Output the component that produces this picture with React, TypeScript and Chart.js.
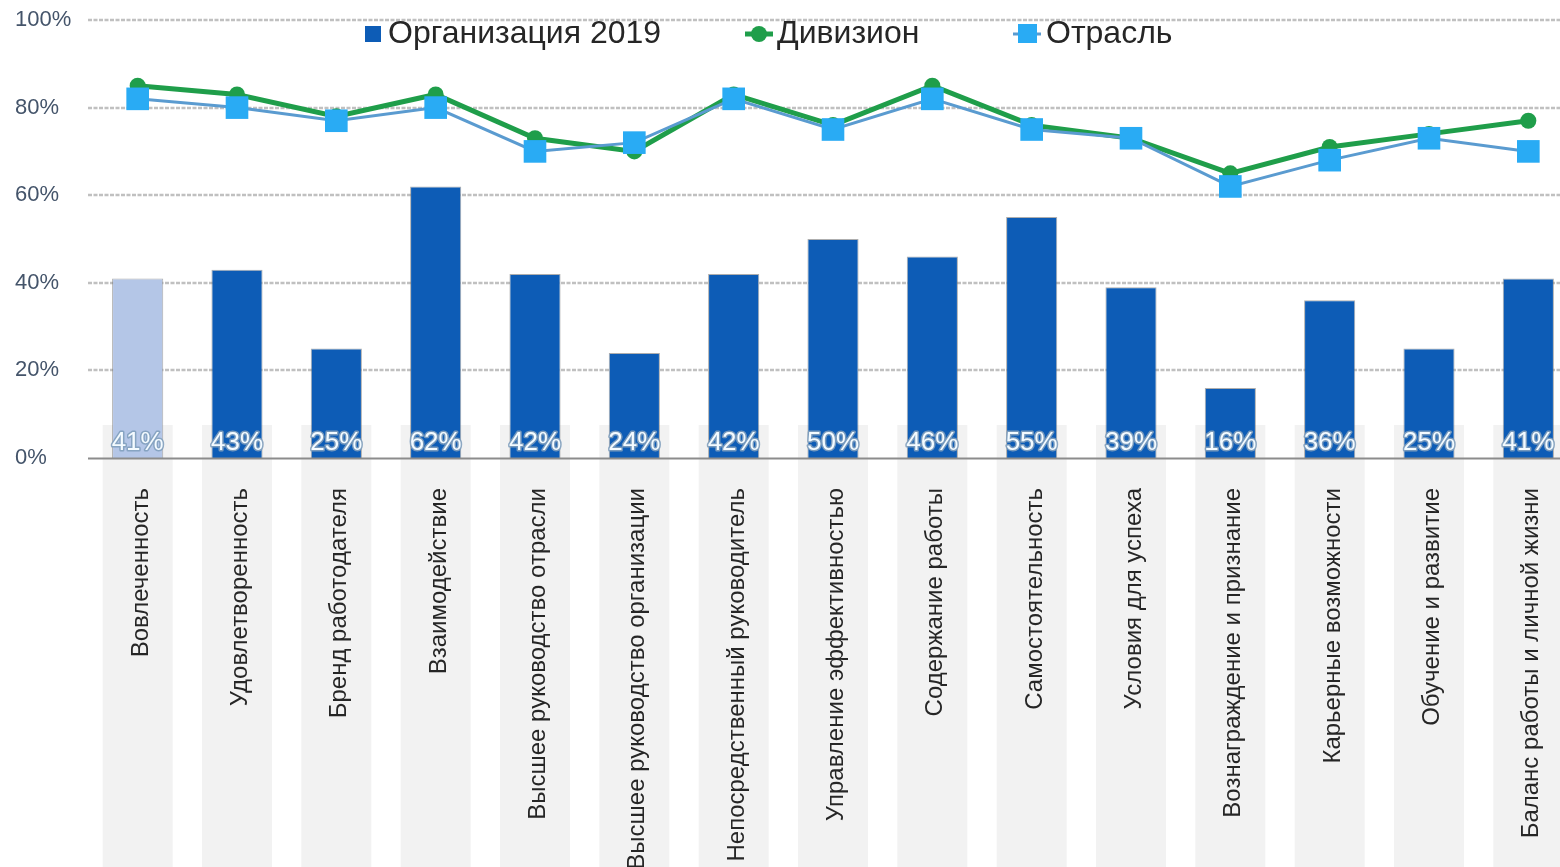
import { useEffect, useRef } from 'react';
import { Chart, registerables } from 'chart.js';

Chart.register(...registerables);

const categories = [
  'Вовлеченность',
  'Удовлетворенность',
  'Бренд работодателя',
  'Взаимодействие',
  'Высшее руководство отрасли',
  'Высшее руководство организации',
  'Непосредственный руководитель',
  'Управление эффективностью',
  'Содержание работы',
  'Самостоятельность',
  'Условия для успеха',
  'Вознаграждение и признание',
  'Карьерные возможности',
  'Обучение и развитие',
  'Баланс работы и личной жизни',
];

const orgValues = [41, 43, 25, 62, 42, 24, 42, 50, 46, 55, 39, 16, 36, 25, 41];
const divisionValues = [85, 83, 78, 83, 73, 70, 83, 76, 85, 76, 73, 65, 71, 74, 77];
const industryValues = [82, 80, 77, 80, 70, 72, 82, 75, 82, 75, 73, 62, 68, 73, 70];
const yTickValues = [0, 20, 40, 60, 80, 100];
const seriesNames = ['Организация 2019', 'Дивизион', 'Отрасль'];

const BAR_DARK = '#0d5cb6';
const BAR_LIGHT = '#b4c6e7';
const GREEN = '#1f9e4a';
const BLUE_LINE = '#5a9bd0';
const BLUE_POINT = '#29abf4';
const FONT = '"Liberation Sans", Arial, sans-serif';

const decorPlugin = {
  id: 'decor',
  beforeDatasetsDraw(chart: any) {
    const { ctx, chartArea, scales } = chart;
    const x = scales.x;
    const y = scales.y;
    ctx.save();
    ctx.fillStyle = '#f2f2f2';
    categories.forEach((_, i) => {
      const cx = x.getPixelForValue(i);
      ctx.fillRect(cx - 35, chartArea.bottom - 33, 70, chart.height - chartArea.bottom + 33);
    });
    ctx.strokeStyle = '#c0c0c0';
    ctx.lineWidth = 2.5;
    ctx.setLineDash([4, 1.5]);
    yTickValues.forEach((v) => {
      if (v === 0) return;
      const py = Math.round(y.getPixelForValue(v));
      ctx.beginPath();
      ctx.moveTo(chartArea.left, py);
      ctx.lineTo(chart.width, py);
      ctx.stroke();
    });
    ctx.restore();
  },
  afterDatasetsDraw(chart: any) {
    const { ctx, chartArea, scales } = chart;
    const x = scales.x;
    const y = scales.y;
    ctx.save();
    const py0 = Math.round(y.getPixelForValue(0)) + 0.5;
    ctx.strokeStyle = '#8c8c8c';
    ctx.lineWidth = 2;
    ctx.beginPath();
    ctx.moveTo(chartArea.left, py0);
    ctx.lineTo(chart.width, py0);
    ctx.stroke();

    ctx.font = `26px ${FONT}`;
    ctx.textAlign = 'center';
    ctx.textBaseline = 'alphabetic';
    ctx.lineJoin = 'round';
    orgValues.forEach((v, i) => {
      const cx = x.getPixelForValue(i);
      const ty = chartArea.bottom - 8;
      ctx.strokeStyle = 'rgba(130,160,190,0.9)';
      ctx.lineWidth = 3;
      ctx.strokeText(v + '%', cx, ty);
      ctx.fillStyle = '#f4fbff';
      ctx.fillText(v + '%', cx, ty);
    });

    ctx.font = `24px ${FONT}`;
    ctx.fillStyle = '#262626';
    categories.forEach((label, i) => {
      const cx = x.getPixelForValue(i);
      ctx.save();
      ctx.translate(cx + 10, chartArea.bottom + 30);
      ctx.rotate(-Math.PI / 2);
      ctx.textAlign = 'right';
      ctx.textBaseline = 'alphabetic';
      ctx.fillText(label, 0, 0);
      ctx.restore();
    });

    ctx.font = `32px ${FONT}`;
    ctx.textAlign = 'left';
    ctx.textBaseline = 'alphabetic';
    ctx.fillStyle = BAR_DARK;
    ctx.fillRect(365, 26, 16, 16);
    ctx.fillStyle = '#262626';
    ctx.fillText(seriesNames[0], 388, 43);
    ctx.strokeStyle = GREEN;
    ctx.lineWidth = 5;
    ctx.beginPath();
    ctx.moveTo(745, 34);
    ctx.lineTo(773, 34);
    ctx.stroke();
    ctx.fillStyle = GREEN;
    ctx.beginPath();
    ctx.arc(759, 34, 8, 0, Math.PI * 2);
    ctx.fill();
    ctx.fillStyle = '#262626';
    ctx.fillText(seriesNames[1], 777, 43);
    ctx.strokeStyle = BLUE_LINE;
    ctx.lineWidth = 3;
    ctx.beginPath();
    ctx.moveTo(1013, 34);
    ctx.lineTo(1041, 34);
    ctx.stroke();
    ctx.fillStyle = BLUE_POINT;
    ctx.fillRect(1018, 24, 19, 19);
    ctx.fillStyle = '#262626';
    ctx.fillText(seriesNames[2], 1046, 43);
    ctx.restore();
  },
};

export default function App() {
  const canvasRef = useRef<HTMLCanvasElement | null>(null);

  useEffect(() => {
    document.body.style.margin = '0';
    document.body.style.overflow = 'hidden';
    const canvas = canvasRef.current;
    if (!canvas) return;
    const chart = new Chart(canvas, {
      type: 'bar',
      data: {
        labels: categories,
        datasets: [
          {
            type: 'line',
            label: seriesNames[2],
            data: industryValues,
            borderColor: BLUE_LINE,
            borderWidth: 3,
            pointStyle: 'rect',
            pointRadius: 16,
            pointBackgroundColor: BLUE_POINT,
            pointBorderWidth: 0,
            fill: false,
            tension: 0,
            order: 1,
          } as any,
          {
            type: 'line',
            label: seriesNames[1],
            data: divisionValues,
            borderColor: GREEN,
            borderWidth: 5,
            pointStyle: 'circle',
            pointRadius: 8,
            pointBackgroundColor: GREEN,
            pointBorderWidth: 0,
            fill: false,
            tension: 0,
            order: 2,
          } as any,
          {
            type: 'bar',
            label: seriesNames[0],
            data: orgValues,
            backgroundColor: orgValues.map((_, i) => (i === 0 ? BAR_LIGHT : BAR_DARK)),
            borderColor: 'rgba(120,120,120,0.6)',
            borderWidth: 1,
            barPercentage: 0.515,
            categoryPercentage: 1,
            order: 3,
          } as any,
        ],
      },
      options: {
        responsive: false,
        animation: false,
        devicePixelRatio: 1,
        layout: { autoPadding: false, padding: { left: 15, top: 20, right: 0, bottom: 409 } },
        plugins: {
          legend: { display: false },
          tooltip: { enabled: false },
        },
        scales: {
          x: { display: false, offset: true },
          y: {
            min: 0,
            max: 100,
            afterBuildTicks: (s: any) => {
              s.ticks = yTickValues.map((v) => ({ value: v }));
            },
            afterFit: (s: any) => {
              s.width = 73;
            },
            ticks: {
              callback: (v: any) => v + '%',
              color: '#44546a',
              font: { family: FONT, size: 22 },
              crossAlign: 'far',
              padding: 0,
            },
            grid: { display: false },
            border: { display: false },
          },
        },
      } as any,
      plugins: [decorPlugin],
    });
    return () => chart.destroy();
  }, []);

  return (
    <div style={{ position: 'relative', width: 1560, height: 867, overflow: 'hidden', background: '#fff' }}>
      <canvas ref={canvasRef} width={1578} height={867} style={{ display: 'block', width: 1578, height: 867 }} />
    </div>
  );
}
